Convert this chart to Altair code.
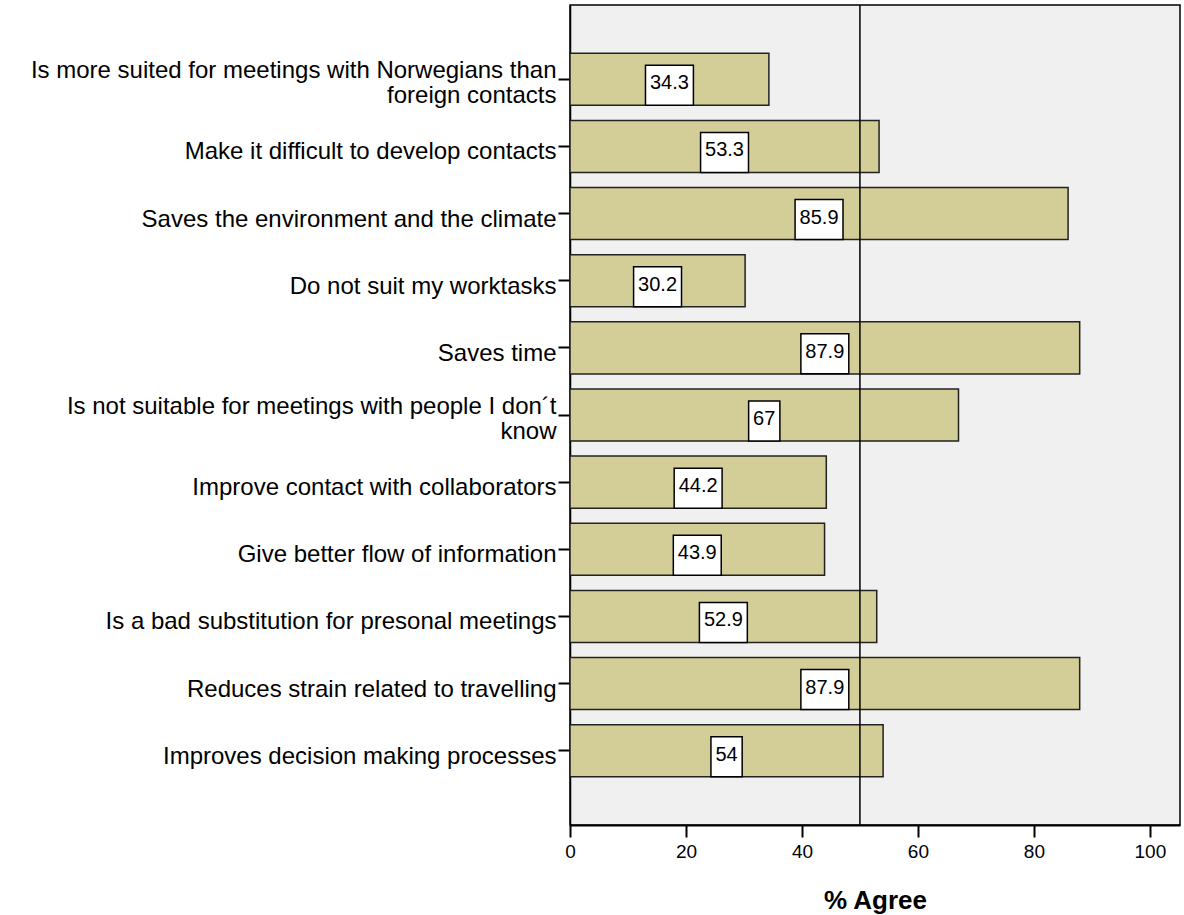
import altair as alt
import pandas as pd

# Survey statements and share of respondents who agree (%)
statements = [
    "Is more suited for meetings with Norwegians than\nforeign contacts",
    "Make it difficult to develop contacts",
    "Saves the environment and the climate",
    "Do not suit my worktasks",
    "Saves time",
    "Is not suitable for meetings with people I don\u00b4t\nknow",
    "Improve contact with collaborators",
    "Give better flow of information",
    "Is a bad substitution for presonal meetings",
    "Reduces strain related to travelling",
    "Improves decision making processes",
]
agree = [34.3, 53.3, 85.9, 30.2, 87.9, 67, 44.2, 43.9, 52.9, 87.9, 54]
x_ticks = [0, 20, 40, 60, 80, 100]
reference_value = [50]

# Plot geometry
PLOT_W = 610
PLOT_H = 820
X_MAX = 105.2
PX_PER_UNIT = PLOT_W / X_MAX
LABEL_FONT = 20

FONT = "Liberation Sans"

df = pd.DataFrame({"statement": statements, "agree": agree})
ref = pd.DataFrame({"v": reference_value})

x_scale = alt.Scale(domain=[0, X_MAX], nice=False, zero=True)
y_scale = alt.Scale(paddingInner=0.225, paddingOuter=0.72)

# two-line labels sit higher so that their first line lines up with the tick
multi_line = "indexof(datum.value, '\\n') >= 0"

y_enc = alt.Y(
    "statement:N",
    sort=statements,
    scale=y_scale,
    axis=alt.Axis(
        title=None,
        labelExpr="split(datum.label, '\\n')",
        labelFontSize=24,
        labelLineHeight=25,
        labelColor="black",
        labelLimit=700,
        labelPadding=2,
        labelOffset={"condition": {"test": multi_line, "value": -8}, "value": 6},
        tickSize=12,
        tickWidth=2,
        tickColor="black",
        domainColor="black",
        domainWidth=1.5,
    ),
)

x_enc = alt.X(
    "agree:Q",
    scale=x_scale,
    axis=alt.Axis(
        title="% Agree",
        values=x_ticks,
        grid=False,
        labelFlush=False,
        labelFontSize=19,
        labelColor="black",
        labelPadding=5,
        tickSize=12,
        tickWidth=2,
        tickColor="black",
        domainColor="black",
        domainWidth=2,
        titleFontSize=26,
        titleFontWeight="bold",
        titleColor="black",
        titlePadding=26,
    ),
)

base = alt.Chart(df)

bars = base.mark_bar(
    color="#d3ce97", stroke="#222222", strokeWidth=1.5
).encode(x=x_enc, y=y_enc)

rule = alt.Chart(ref).mark_rule(color="black", strokeWidth=1.5).encode(
    x=alt.X("v:Q", scale=x_scale)
)

labelled = base.transform_calculate(
    label="format(datum.agree, '.1~f')",
    mid="datum.agree / 2",
).transform_calculate(
    has_dot="indexof(datum.label, '.') >= 0 ? 1 : 0",
).transform_calculate(
    half_w=f"(({LABEL_FONT} * (0.556 * (length(datum.label) - datum.has_dot) + 0.278 * datum.has_dot)) + 9) / 2 / {PX_PER_UNIT}",
).transform_calculate(
    x0="datum.mid - datum.half_w",
    x1="datum.mid + datum.half_w",
)

boxes = labelled.mark_bar(
    color="white", stroke="black", strokeWidth=1.5, height=40, yOffset=6
).encode(
    x=alt.X("x0:Q", scale=x_scale),
    x2="x1:Q",
    y=alt.Y("statement:N", sort=statements, scale=y_scale),
)

texts = labelled.mark_text(
    fontSize=LABEL_FONT, color="black", baseline="middle", align="center", dy=4
).encode(
    x=alt.X("mid:Q", scale=x_scale),
    y=alt.Y("statement:N", sort=statements, scale=y_scale),
    text="label:N",
)

chart = (
    alt.layer(bars, rule, boxes, texts)
    .properties(
        width=PLOT_W,
        height=PLOT_H,
        autosize=alt.AutoSizeParams(type="none"),
        padding={"left": 570, "top": 5, "right": 4, "bottom": 90},
        background="white",
    )
    .configure(font=FONT)
    .configure_view(fill="#f0f0f0", stroke="black", strokeWidth=1.5)
)

chart.save("out.html", embed_options={"renderer": "svg", "actions": False})
